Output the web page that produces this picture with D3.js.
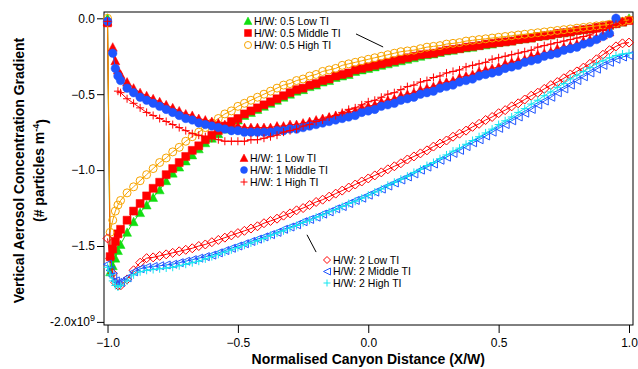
<!DOCTYPE html>
<html>
<head>
<meta charset="utf-8">
<script src="https://cdn.jsdelivr.net/npm/d3@7"></script>
<style>
  html, body { margin: 0; padding: 0; background: #fff; }
  svg { display: block; font-family: "Liberation Sans", Arial, sans-serif; }
</style>
</head>
<body>
<svg id="chart" width="638" height="369"></svg>
<script>
// Normalised canyon distance (X/W) sample positions shared by all runs
const xPos = [-1, -0.99, -0.98, -0.97, -0.96, -0.95,
  -0.925, -0.9, -0.875, -0.85, -0.825, -0.8, -0.775, -0.75,
  -0.725, -0.7, -0.675, -0.65, -0.625, -0.6, -0.575, -0.55,
  -0.525, -0.5, -0.475, -0.45, -0.425, -0.4, -0.375, -0.35,
  -0.325, -0.3, -0.275, -0.25, -0.225, -0.2, -0.175, -0.15,
  -0.125, -0.1, -0.075, -0.05, -0.025, 0, 0.025, 0.05,
  0.075, 0.1, 0.125, 0.15, 0.175, 0.2, 0.225, 0.25,
  0.275, 0.3, 0.325, 0.35, 0.375, 0.4, 0.425, 0.45,
  0.475, 0.5, 0.525, 0.55, 0.575, 0.6, 0.625, 0.65,
  0.675, 0.7, 0.725, 0.75, 0.775, 0.8, 0.825, 0.85,
  0.875, 0.9, 0.925, 0.95, 0.975, 1];

// Vertical aerosol concentration gradient, in units of 1e9 particles m^-4 (null = no sample)
const hw05Low = [0.00, -1.67, -1.63, -1.58, -1.53, -1.49,
  -1.41, -1.34, -1.28, -1.23, -1.18, -1.13, -1.07, -1.02,
  -0.98, -0.94, -0.90, -0.86, -0.82, -0.79, -0.76, -0.73,
  -0.70, -0.67, -0.64, -0.62, -0.60, -0.58, -0.56, -0.54,
  -0.52, -0.50, -0.48, -0.47, -0.45, -0.44, -0.42, -0.41,
  -0.39, -0.38, -0.37, -0.35, -0.34, -0.33, -0.32, -0.31,
  -0.30, -0.29, -0.28, -0.27, -0.26, -0.25, -0.24, -0.235,
  -0.225, -0.215, -0.21, -0.20, -0.195, -0.19, -0.18, -0.175,
  -0.17, -0.16, -0.155, -0.15, -0.14, -0.135, -0.13, -0.12,
  -0.115, -0.11, -0.10, -0.095, -0.09, -0.08, -0.075, -0.07,
  -0.06, -0.055, -0.045, -0.035, -0.025, 0.00];
const hw05Mid = [-0.03, -1.57, -1.52, -1.47, -1.42, -1.39,
  -1.33, -1.27, -1.22, -1.17, -1.12, -1.08, -1.03, -0.99,
  -0.95, -0.91, -0.87, -0.84, -0.80, -0.77, -0.74, -0.71,
  -0.68, -0.66, -0.63, -0.61, -0.59, -0.57, -0.55, -0.53,
  -0.51, -0.49, -0.47, -0.46, -0.44, -0.43, -0.41, -0.40,
  -0.38, -0.37, -0.36, -0.34, -0.33, -0.32, -0.31, -0.30,
  -0.29, -0.28, -0.27, -0.26, -0.25, -0.24, -0.235, -0.23,
  -0.22, -0.21, -0.205, -0.20, -0.19, -0.185, -0.18, -0.17,
  -0.165, -0.16, -0.155, -0.15, -0.14, -0.135, -0.13, -0.12,
  -0.115, -0.11, -0.10, -0.095, -0.09, -0.08, -0.075, -0.07,
  -0.06, -0.055, -0.045, -0.035, -0.025, -0.015];
const hw05High = [0.00, -1.41, -1.33, -1.27, -1.23, -1.20,
  -1.15, -1.11, -1.07, -1.03, -0.99, -0.95, -0.92, -0.88,
  -0.85, -0.81, -0.78, -0.75, -0.72, -0.69, -0.66, -0.63,
  -0.61, -0.58, -0.56, -0.54, -0.52, -0.50, -0.48, -0.46,
  -0.44, -0.43, -0.41, -0.40, -0.38, -0.37, -0.35, -0.34,
  -0.33, -0.31, -0.30, -0.29, -0.28, -0.27, -0.26, -0.25,
  -0.24, -0.23, -0.22, -0.215, -0.21, -0.20, -0.19, -0.185,
  -0.18, -0.17, -0.165, -0.16, -0.15, -0.145, -0.14, -0.135,
  -0.13, -0.125, -0.12, -0.115, -0.11, -0.105, -0.10, -0.095,
  -0.09, -0.085, -0.08, -0.075, -0.07, -0.065, -0.06, -0.055,
  -0.05, -0.045, -0.04, -0.03, -0.02, -0.01];

const hw1Low = [-0.02, null, -0.19, -0.28, -0.34, -0.37,
  -0.42, -0.46, -0.49, -0.51, -0.53, -0.55, -0.57, -0.59,
  -0.61, -0.63, -0.64, -0.66, -0.67, -0.68, -0.69, -0.70,
  -0.71, -0.71, -0.72, -0.72, -0.72, -0.72, -0.72, -0.71,
  -0.71, -0.70, -0.70, -0.69, -0.68, -0.67, -0.66, -0.65,
  -0.64, -0.63, -0.62, -0.61, -0.59, -0.58, -0.57, -0.55,
  -0.54, -0.53, -0.51, -0.50, -0.49, -0.47, -0.46, -0.45,
  -0.43, -0.42, -0.41, -0.39, -0.38, -0.37, -0.35, -0.34,
  -0.33, -0.32, -0.30, -0.29, -0.28, -0.27, -0.25, -0.24,
  -0.23, -0.22, -0.20, -0.19, -0.18, -0.17, -0.15, -0.14,
  -0.13, -0.11, -0.09, 0.00, null, null];
const hw1Mid = [-0.02, null, -0.23, -0.33, -0.38, -0.41,
  -0.46, -0.49, -0.52, -0.54, -0.56, -0.58, -0.60, -0.62,
  -0.64, -0.66, -0.67, -0.69, -0.70, -0.71, -0.72, -0.73,
  -0.74, -0.74, -0.75, -0.75, -0.75, -0.75, -0.75, -0.74,
  -0.74, -0.73, -0.73, -0.72, -0.71, -0.70, -0.69, -0.68,
  -0.67, -0.66, -0.65, -0.64, -0.62, -0.61, -0.60, -0.58,
  -0.57, -0.56, -0.54, -0.53, -0.52, -0.50, -0.49, -0.48,
  -0.46, -0.45, -0.44, -0.42, -0.41, -0.40, -0.38, -0.37,
  -0.36, -0.35, -0.33, -0.32, -0.31, -0.29, -0.28, -0.27,
  -0.25, -0.24, -0.23, -0.21, -0.20, -0.19, -0.17, -0.16,
  -0.14, -0.12, -0.10, 0.00, null, null];
const hw1High = [-0.02, null, null, null, -0.48, -0.49,
  -0.53, -0.56, -0.59, -0.62, -0.64, -0.66, -0.68, -0.70,
  -0.72, -0.74, -0.76, -0.77, -0.78, -0.79, -0.80, -0.81,
  -0.81, -0.81, -0.81, -0.80, -0.80, -0.79, -0.78, -0.77,
  -0.75, -0.74, -0.73, -0.71, -0.70, -0.68, -0.67, -0.65,
  -0.64, -0.62, -0.60, -0.59, -0.57, -0.55, -0.54, -0.52,
  -0.50, -0.49, -0.47, -0.45, -0.44, -0.42, -0.41, -0.39,
  -0.38, -0.36, -0.35, -0.34, -0.32, -0.31, -0.30, -0.29,
  -0.27, -0.26, -0.25, -0.24, -0.23, -0.22, -0.21, -0.19,
  -0.18, -0.17, -0.16, -0.15, -0.14, -0.13, -0.12, -0.11,
  -0.09, -0.08, -0.06, -0.04, -0.02, null];

const hw2Low = [-1.45, -1.58, -1.68, -1.74, -1.76, -1.76,
  -1.72, -1.66, -1.61, -1.58, -1.575, -1.565, -1.555, -1.545,
  -1.535, -1.525, -1.515, -1.50, -1.49, -1.475, -1.46, -1.445,
  -1.43, -1.415, -1.40, -1.385, -1.37, -1.35, -1.335, -1.32,
  -1.30, -1.285, -1.265, -1.25, -1.23, -1.21, -1.195, -1.175,
  -1.155, -1.135, -1.115, -1.095, -1.075, -1.055, -1.035, -1.015,
  -0.995, -0.975, -0.955, -0.93, -0.91, -0.89, -0.87, -0.845,
  -0.825, -0.805, -0.78, -0.76, -0.74, -0.715, -0.695, -0.67,
  -0.65, -0.625, -0.605, -0.58, -0.56, -0.535, -0.51, -0.49,
  -0.465, -0.44, -0.42, -0.395, -0.37, -0.35, -0.325, -0.30,
  -0.27, -0.24, -0.21, -0.185, -0.165, -0.16];
const hw2Mid = [-1.62, -1.66, -1.70, -1.73, -1.74, -1.74,
  -1.71, -1.67, -1.65, -1.64, -1.635, -1.63, -1.625, -1.62,
  -1.61, -1.60, -1.59, -1.58, -1.57, -1.56, -1.545, -1.53,
  -1.515, -1.50, -1.485, -1.47, -1.455, -1.44, -1.425, -1.41,
  -1.39, -1.375, -1.36, -1.34, -1.325, -1.31, -1.29, -1.275,
  -1.255, -1.24, -1.22, -1.20, -1.185, -1.165, -1.145, -1.125,
  -1.105, -1.085, -1.065, -1.045, -1.025, -1.00, -0.98, -0.96,
  -0.935, -0.915, -0.89, -0.87, -0.845, -0.82, -0.80, -0.775,
  -0.75, -0.725, -0.70, -0.675, -0.65, -0.625, -0.60, -0.57,
  -0.545, -0.52, -0.49, -0.465, -0.44, -0.41, -0.385, -0.36,
  -0.335, -0.31, -0.29, -0.27, -0.255, -0.245];
const hw2High = [-1.64, -1.69, -1.73, -1.76, -1.77, -1.76,
  -1.73, -1.69, -1.67, -1.66, -1.655, -1.65, -1.645, -1.64,
  -1.63, -1.62, -1.61, -1.60, -1.585, -1.57, -1.555, -1.54,
  -1.525, -1.51, -1.495, -1.48, -1.465, -1.45, -1.43, -1.415,
  -1.40, -1.38, -1.365, -1.345, -1.33, -1.31, -1.295, -1.275,
  -1.26, -1.24, -1.22, -1.205, -1.185, -1.165, -1.145, -1.125,
  -1.10, -1.08, -1.06, -1.04, -1.015, -0.995, -0.97, -0.95,
  -0.925, -0.90, -0.875, -0.855, -0.83, -0.805, -0.78, -0.755,
  -0.73, -0.70, -0.675, -0.65, -0.62, -0.595, -0.565, -0.54,
  -0.51, -0.485, -0.455, -0.43, -0.40, -0.375, -0.35, -0.325,
  -0.30, -0.28, -0.26, -0.245, -0.235, -0.23];

const seriesNames = ["H/W: 0.5 Low TI", "H/W: 0.5 Middle TI", "H/W: 0.5 High TI",
  "H/W: 1 Low TI", "H/W: 1 Middle TI", "H/W: 1 High TI",
  "H/W: 2 Low TI", "H/W: 2 Middle TI", "H/W: 2 High TI"];
const seriesValues = [hw05Low, hw05Mid, hw05High, hw1Low, hw1Mid, hw1High, hw2Low, hw2Mid, hw2High];

const xTicks = [-1.0, -0.5, 0.0, 0.5, 1.0];
const yTicks = [0.0, -0.5, -1.0, -1.5, -2.0];

// Marker styling per series
const styles = [
  { color: "#10de10", shape: "triUp",   fill: true,  size: 8 },
  { color: "#ff0000", shape: "square",  fill: true,  size: 8 },
  { color: "#f7a400", shape: "circle",  fill: false, size: 8 },
  { color: "#ff0000", shape: "triUp",   fill: true,  size: 8 },
  { color: "#1f55ff", shape: "circle",  fill: true,  size: 8.5 },
  { color: "#ff0000", shape: "plus",    fill: false, size: 8 },
  { color: "#ff0000", shape: "diamond", fill: false, size: 9 },
  { color: "#1f55ff", shape: "triLeft", fill: false, size: 8 },
  { color: "#14e6f0", shape: "plus",    fill: false, size: 8 }
];

const svg = d3.select("#chart");

const x = d3.scaleLinear().domain([-1.0135, 1.0153]).range([104, 633]);
const y = d3.scaleLinear().domain([-2.0204, 0.0415]).range([325, 12]);

function shapePath(shape, s) {
  const h = s / 2;
  switch (shape) {
    case "triUp":   return `M0,${-h - 0.5}L${h + 0.5},${h}L${-h - 0.5},${h}Z`;
    case "triLeft": return `M${-h},0L${h},${-h}L${h},${h}Z`;
    case "square":  return `M${-h},${-h}H${h}V${h}H${-h}Z`;
    case "circle":  return `M${h},0A${h},${h},0,1,1,${-h},0A${h},${h},0,1,1,${h},0Z`;
    case "diamond": return `M0,${-h}L${h},0L0,${h}L${-h},0Z`;
    case "plus":    return `M${-h},0H${h}M0,${-h}V${h}`;
  }
}

// Frame
svg.append("rect")
  .attr("x", x.range()[0]).attr("y", y.range()[1])
  .attr("width", x.range()[1] - x.range()[0])
  .attr("height", y.range()[0] - y.range()[1])
  .attr("fill", "none").attr("stroke", "#000").attr("stroke-width", 1);

// Axes
const xAxis = d3.axisBottom(x).tickValues(xTicks).tickSize(8).tickSizeOuter(0)
  .tickFormat(d3.format(".1f"));
const gx = svg.append("g").attr("transform", `translate(0,${y.range()[0]})`).call(xAxis);
gx.select(".domain").remove();
gx.selectAll(".tick text").attr("font-size", 12).attr("font-family", "Liberation Sans, Arial, sans-serif")
  .attr("fill", "#000").attr("dy", "0.95em");

const yAxis = d3.axisLeft(y).tickValues(yTicks).tickSize(7).tickSizeOuter(0)
  .tickFormat(d => d === -2 ? "" : d3.format(".1f")(d));
const gy = svg.append("g").attr("transform", `translate(${x.range()[0]},0)`).call(yAxis);
gy.select(".domain").remove();
gy.selectAll(".tick text").attr("font-size", 12).attr("font-family", "Liberation Sans, Arial, sans-serif")
  .attr("fill", "#000").attr("x", -9);
// Bottom tick label carries the exponent
const lastTick = gy.selectAll(".tick").filter(d => d === -2).select("text");
lastTick.append("tspan").text("-2.0x10");
lastTick.append("tspan").text("9").attr("font-size", 9).attr("dy", "-0.55em");

// Axis titles
const midY = (y.range()[0] + y.range()[1]) / 2;
svg.append("text")
  .attr("transform", `translate(24,${midY + 2}) rotate(-90)`)
  .attr("text-anchor", "middle").attr("font-weight", "bold").attr("font-size", 14)
  .text("Vertical Aerosol Concentration Gradient");
const t2 = svg.append("text")
  .attr("transform", `translate(44,${midY + 2}) rotate(-90)`)
  .attr("text-anchor", "middle").attr("font-weight", "bold").attr("font-size", 14);
t2.append("tspan").text("(# particles m");
t2.append("tspan").text("-4").attr("font-size", 9).attr("dy", "-0.6em");
t2.append("tspan").text(")").attr("dy", "0.6em");

svg.append("text")
  .attr("x", x(0)).attr("y", 364)
  .attr("text-anchor", "middle").attr("font-weight", "bold").attr("font-size", 14)
  .text("Normalised Canyon Distance (X/W)");

// Series
const plot = svg.append("g");
const line = d3.line().defined(d => d.v !== null).x(d => x(d.x)).y(d => y(d.v));
seriesValues.forEach((vals, i) => {
  const st = styles[i];
  const pts = xPos.map((xv, k) => ({ x: xv, v: vals[k] }));
  const g = plot.append("g");
  g.append("path").datum(pts).attr("d", line)
    .attr("fill", "none").attr("stroke", st.color).attr("stroke-width", 1);
  g.selectAll("path.m").data(pts.filter(d => d.v !== null)).join("path")
    .attr("class", "m")
    .attr("transform", d => `translate(${x(d.x)},${y(d.v)})`)
    .attr("d", shapePath(st.shape, st.size))
    .attr("fill", st.fill ? st.color : "none")
    .attr("stroke", st.color).attr("stroke-width", st.fill ? 0.5 : 1);
});

// Legends
const legendGroups = [
  { idx: [0, 1, 2], x: 248, y: 21, gap: 12 },
  { idx: [3, 4, 5], x: 244, y: 158, gap: 12 },
  { idx: [6, 7, 8], x: 327, y: 260, gap: 11.5 }
];
legendGroups.forEach(lg => {
  lg.idx.forEach((si, r) => {
    const st = styles[si];
    const cy = lg.y + r * lg.gap;
    svg.append("path").attr("transform", `translate(${lg.x},${cy})`)
      .attr("d", shapePath(st.shape, 7))
      .attr("fill", st.fill ? st.color : "none")
      .attr("stroke", st.color).attr("stroke-width", st.fill ? 0.5 : 1);
    svg.append("text").attr("x", lg.x + 6).attr("y", cy + 3.8)
      .attr("font-size", 10.5).text(seriesNames[si]);
  });
});

// Pointer lines from the legends to their curve families
const pointers = [
  { from: [-0.047, -0.103], to: [0.057, -0.189] },
  { from: [-0.235, -1.426], to: [-0.200, -1.540] }
];
pointers.forEach(p => {
  svg.append("line")
    .attr("x1", x(p.from[0])).attr("y1", y(p.from[1]))
    .attr("x2", x(p.to[0])).attr("y2", y(p.to[1]))
    .attr("stroke", "#000").attr("stroke-width", 1);
});
</script>
</body>
</html>
